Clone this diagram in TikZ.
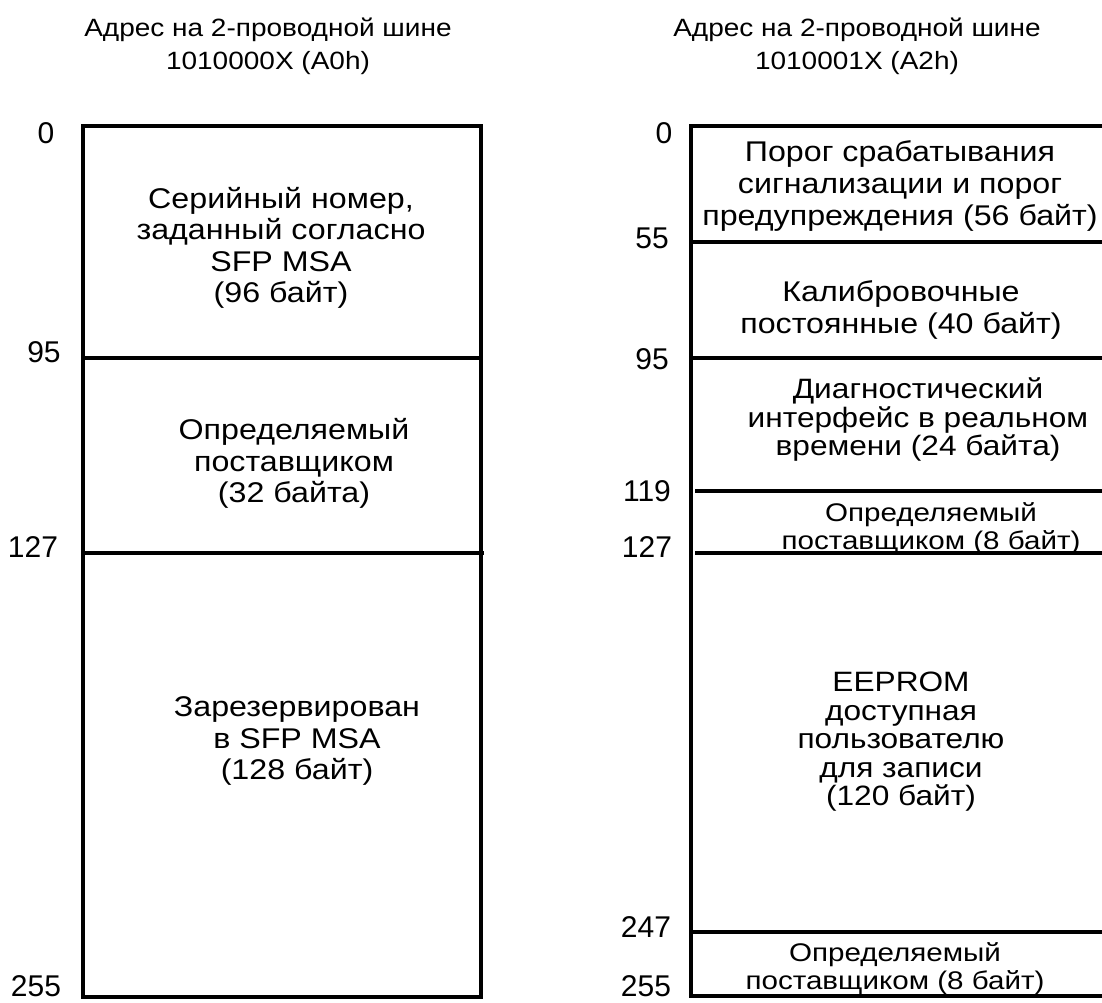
\documentclass[tikz,border=0pt]{standalone}
\usepackage{fontspec}
\setmainfont{Liberation Sans}
\newfontfamily\widefont[FakeStretch=1.13]{Liberation Sans}
\newfontfamily\widerfont[FakeStretch=1.16]{Liberation Sans}
\newfontfamily\ttlfont[FakeStretch=1.12]{Liberation Sans}
\begin{document}
\begin{tikzpicture}[x=1pt,y=-1pt,
  frame/.style={line width=3.2pt},
  sep/.style={line width=3.2pt},
  lbl/.style={inner sep=0pt,font=\fontsize{30}{32}\selectfont},
  txt/.style={inner sep=0pt,align=center,font=\widefont\fontsize{28.5}{31.5}\selectfont},
  txtb/.style={inner sep=0pt,align=center,font=\widefont\fontsize{28}{28.5}\selectfont},
  txts/.style={inner sep=0pt,align=center,font=\widerfont\fontsize{25.5}{28}\selectfont},
  ttl/.style={inner sep=0pt,align=center,font=\ttlfont\fontsize{25}{33}\selectfont}]
\useasboundingbox (0,0) rectangle (1102,1002);
% titles
\node[ttl] (t1) at (268,46.5) {Адрес на 2-проводной шине\\1010000X (A0h)};
\node[ttl] (t2) at (857,46.5) {Адрес на 2-проводной шине\\1010001X (A2h)};
% left memory map
\draw[frame] (83,126) rectangle (481,997);
\draw[sep] (83,358) -- (481,358);
\draw[sep] (83,553) -- (484,553);
\node[txt] (l1) at (281,248) {Серийный номер,\\заданный согласно\\SFP MSA\\(96 байт)};
\node[txt] (l2) at (294,463.5) {Определяемый\\поставщиком\\(32 байта)};
\node[txt] (l3) at (297,741) {Зарезервирован\\в SFP MSA\\(128 байт)};
\node[lbl] (a0) at (46,133) {0};
\node[lbl] (a95) at (44,352) {95};
\node[lbl] (a127) at (33,547) {127};
\node[lbl] (a255) at (36,986) {255};
% right memory map
\draw[frame] (1102,126) -- (691,126) -- (691,996) -- (1102,996);
\draw[sep] (691,242) -- (1102,242);
\draw[sep] (691,358) -- (1102,358);
\draw[sep] (695,491) -- (1102,491);
\draw[sep] (695,553) -- (1102,553);
\draw[sep] (691,932) -- (1102,932);
\node[txt] (r1) at (900,186) {Порог срабатывания\\сигнализации и порог\\предупреждения (56 байт)};
\node[txt] (r2) at (901,310) {Калибровочные\\постоянные (40 байт)};
\node[txtb] (r3) at (918,420) {Диагностический\\интерфейс в реальном\\времени (24 байта)};
\node[txts] (r4) at (931,529) {Определяемый\\поставщиком (8 байт)};
\node[txtb] (r5) at (901,742) {EEPROM\\доступная\\пользователю\\для записи\\(120 байт)};
\node[txts] (r6) at (895,969) {Определяемый\\поставщиком (8 байт)};
\node[lbl] (b0) at (664,133) {0};
\node[lbl] (b55) at (652,238) {55};
\node[lbl] (b95) at (652,359) {95};
\node[lbl] (b119) at (647,491) {119};
\node[lbl] (b127) at (647,547) {127};
\node[lbl] (b247) at (646,927) {247};
\node[lbl] (b255) at (646,986) {255};
\end{tikzpicture}
\end{document}
